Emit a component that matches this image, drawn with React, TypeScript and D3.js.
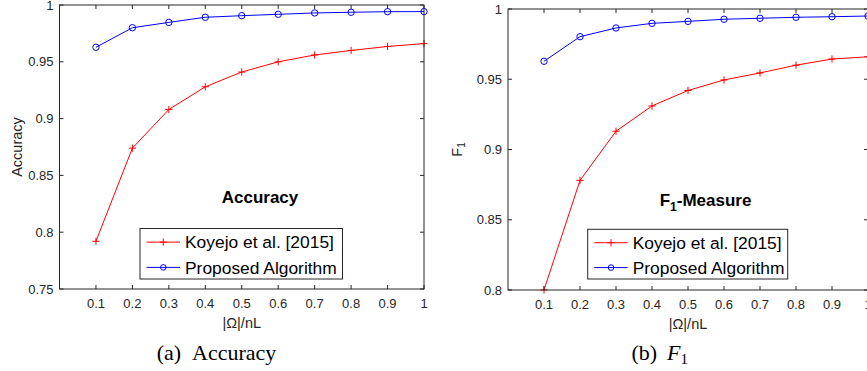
import React from 'react';
import * as d3 from 'd3';

// x positions, |Omega|/nL
const ratios = [0.1, 0.2, 0.3, 0.4, 0.5, 0.6, 0.7, 0.8, 0.9, 1.0];
const xTickLabels = ['0.1', '0.2', '0.3', '0.4', '0.5', '0.6', '0.7', '0.8', '0.9', '1'];

// (a) accuracy
const accKoyejo = [0.792, 0.874, 0.908, 0.928, 0.941, 0.950, 0.956, 0.960, 0.9635, 0.966];
const accProposed = [0.9628, 0.980, 0.9847, 0.9892, 0.9906, 0.9918, 0.993, 0.9936, 0.9941, 0.9942];
const accYTicks = [0.75, 0.8, 0.85, 0.9, 0.95, 1];
const accYTickLabels = ['0.75', '0.8', '0.85', '0.9', '0.95', '1'];

// (b) F1
const f1Koyejo = [0.800, 0.878, 0.913, 0.931, 0.942, 0.9495, 0.9545, 0.960, 0.9644, 0.966];
const f1Proposed = [0.9628, 0.9803, 0.9865, 0.9898, 0.9912, 0.9927, 0.9934, 0.9941, 0.9945, 0.995];
const f1YTicks = [0.8, 0.85, 0.9, 0.95, 1];
const f1YTickLabels = ['0.8', '0.85', '0.9', '0.95', '1'];

const seriesNames = ['Koyejo et al. [2015]', 'Proposed Algorithm'];
const RED = '#ff0000';
const BLUE = '#0000ff';
const AXIS = '#262626';
const SANS = '"Liberation Sans", Arial, Helvetica, sans-serif';
const SERIF = '"Liberation Serif", "Times New Roman", serif';

interface PanelProps {
  left: number;
  right: number;
  top: number;
  bottom: number;
  yDomain: [number, number];
  yTicks: number[];
  yTickLabels: string[];
  koyejo: number[];
  proposed: number[];
  yLabel: React.ReactNode;
  yLabelX: number;
  title: React.ReactNode;
  titleX: number;
  titleY: number;
  legend: { x: number; y: number; w: number; h: number };
}

const Plus: React.FC<{ x: number; y: number; s?: number }> = ({ x, y, s = 3.6 }) => (
  <path d={`M${x - s},${y}H${x + s}M${x},${y - s}V${y + s}`} stroke={RED} strokeWidth={1} fill="none" />
);

const Circle: React.FC<{ x: number; y: number; r?: number }> = ({ x, y, r = 3.2 }) => (
  <circle cx={x} cy={y} r={r} stroke={BLUE} strokeWidth={1} fill="none" />
);

const Panel: React.FC<PanelProps> = (p) => {
  const xScale = d3.scaleLinear().domain([0, 1]).range([p.left, p.right]);
  const yScale = d3.scaleLinear().domain(p.yDomain).range([p.bottom, p.top]);
  const line = d3.line<number>()
    .x((_, i) => xScale(ratios[i]))
    .y((d) => yScale(d));
  const tick = 4;
  const lg = p.legend;
  const rowH = lg.h / 2;

  return (
    <g>
      {/* data */}
      <path d={line(p.koyejo) || ''} stroke={RED} strokeWidth={1} fill="none" />
      <path d={line(p.proposed) || ''} stroke={BLUE} strokeWidth={1} fill="none" />
      {p.koyejo.map((v, i) => <Plus key={'k' + i} x={xScale(ratios[i])} y={yScale(v)} />)}
      {p.proposed.map((v, i) => <Circle key={'p' + i} x={xScale(ratios[i])} y={yScale(v)} />)}

      {/* box */}
      <rect x={p.left} y={p.top} width={p.right - p.left} height={p.bottom - p.top}
        fill="none" stroke={AXIS} strokeWidth={1} />

      {/* x ticks */}
      {ratios.map((r, i) => (
        <g key={'xt' + i}>
          <line x1={xScale(r)} x2={xScale(r)} y1={p.bottom} y2={p.bottom - tick} stroke={AXIS} />
          <line x1={xScale(r)} x2={xScale(r)} y1={p.top} y2={p.top + tick} stroke={AXIS} />
          <text x={xScale(r)} y={p.bottom + 19} textAnchor="middle" fontFamily={SANS}
            fontSize={13} fill={AXIS}>{xTickLabels[i]}</text>
        </g>
      ))}

      {/* y ticks */}
      {p.yTicks.map((t, i) => (
        <g key={'yt' + i}>
          <line x1={p.left} x2={p.left + tick} y1={yScale(t)} y2={yScale(t)} stroke={AXIS} />
          <line x1={p.right} x2={p.right - tick} y1={yScale(t)} y2={yScale(t)} stroke={AXIS} />
          <text x={p.left - 6} y={yScale(t)} dy="0.35em" textAnchor="end" fontFamily={SANS}
            fontSize={13} fill={AXIS}>{p.yTickLabels[i]}</text>
        </g>
      ))}

      {/* axis labels */}
      <text x={(p.left + p.right) / 2} y={p.bottom + 39} textAnchor="middle" fontFamily={SANS}
        fontSize={14.5} fill={AXIS}>|Ω|/nL</text>
      <text transform={`translate(${p.yLabelX},${(p.top + p.bottom) / 2}) rotate(-90)`}
        textAnchor="middle" fontFamily={SANS} fontSize={14.5} fill={AXIS}>{p.yLabel}</text>

      {/* title */}
      <text x={p.titleX} y={p.titleY} textAnchor="middle" fontFamily={SANS} fontWeight="bold"
        fontSize={17} fill="#000">{p.title}</text>

      {/* legend */}
      <rect x={lg.x} y={lg.y} width={lg.w} height={lg.h} fill="#fff" stroke={AXIS} strokeWidth={1} />
      {seriesNames.map((name, i) => {
        const cy = lg.y + rowH * i + rowH / 2 + 1;
        const color = i === 0 ? RED : BLUE;
        return (
          <g key={'lg' + i}>
            <line x1={lg.x + 6.5} x2={lg.x + 40} y1={cy} y2={cy} stroke={color} strokeWidth={1} />
            {i === 0 ? <Plus x={lg.x + 23.3} y={cy} /> : <Circle x={lg.x + 23.3} y={cy} r={2.8} />}
            <text x={lg.x + 45} y={cy} dy="0.36em" fontFamily={SANS} fontSize={17.4}
              fill="#000">{name}</text>
          </g>
        );
      })}
    </g>
  );
};

export default function App() {
  return (
    <svg width={867} height={371} style={{ position: 'absolute', left: 0, top: 0, background: '#fff' }}>
      <rect x={0} y={0} width={867} height={371} fill="#fff" />
      <Panel
        left={59.5} right={424} top={5} bottom={289}
        yDomain={[0.75, 1]} yTicks={accYTicks} yTickLabels={accYTickLabels}
        koyejo={accKoyejo} proposed={accProposed}
        yLabel="Accuracy" yLabelX={22}
        title="Accuracy" titleX={260} titleY={203}
        legend={{ x: 140, y: 228.5, w: 202.5, h: 50.5 }}
      />
      <Panel
        left={508} right={868} top={9} bottom={290}
        yDomain={[0.8, 1]} yTicks={f1YTicks} yTickLabels={f1YTickLabels}
        koyejo={f1Koyejo} proposed={f1Proposed}
        yLabel={<><tspan>F</tspan><tspan fontSize={10} dy={3}>1</tspan></>} yLabelX={462}
        title={<><tspan>F</tspan><tspan fontSize={12} dy={5}>1</tspan><tspan dy={-5}>-Measure</tspan></>}
        titleX={705.5} titleY={205.5}
        legend={{ x: 587.7, y: 229.3, w: 200, h: 49.7 }}
      />
      {/* captions */}
      <text x={216.5} y={360} textAnchor="middle" fontFamily={SERIF} fontSize={22} fill="#000">
        <tspan>(a)</tspan><tspan dx={11}>Accuracy</tspan>
      </text>
      <text x={659.7} y={360} textAnchor="middle" fontFamily={SERIF} fontSize={22} fill="#000">
        <tspan>(b)</tspan><tspan dx={10} fontStyle="italic">F</tspan>
        <tspan fontSize={15} dy={3.5}>1</tspan>
      </text>
    </svg>
  );
}
